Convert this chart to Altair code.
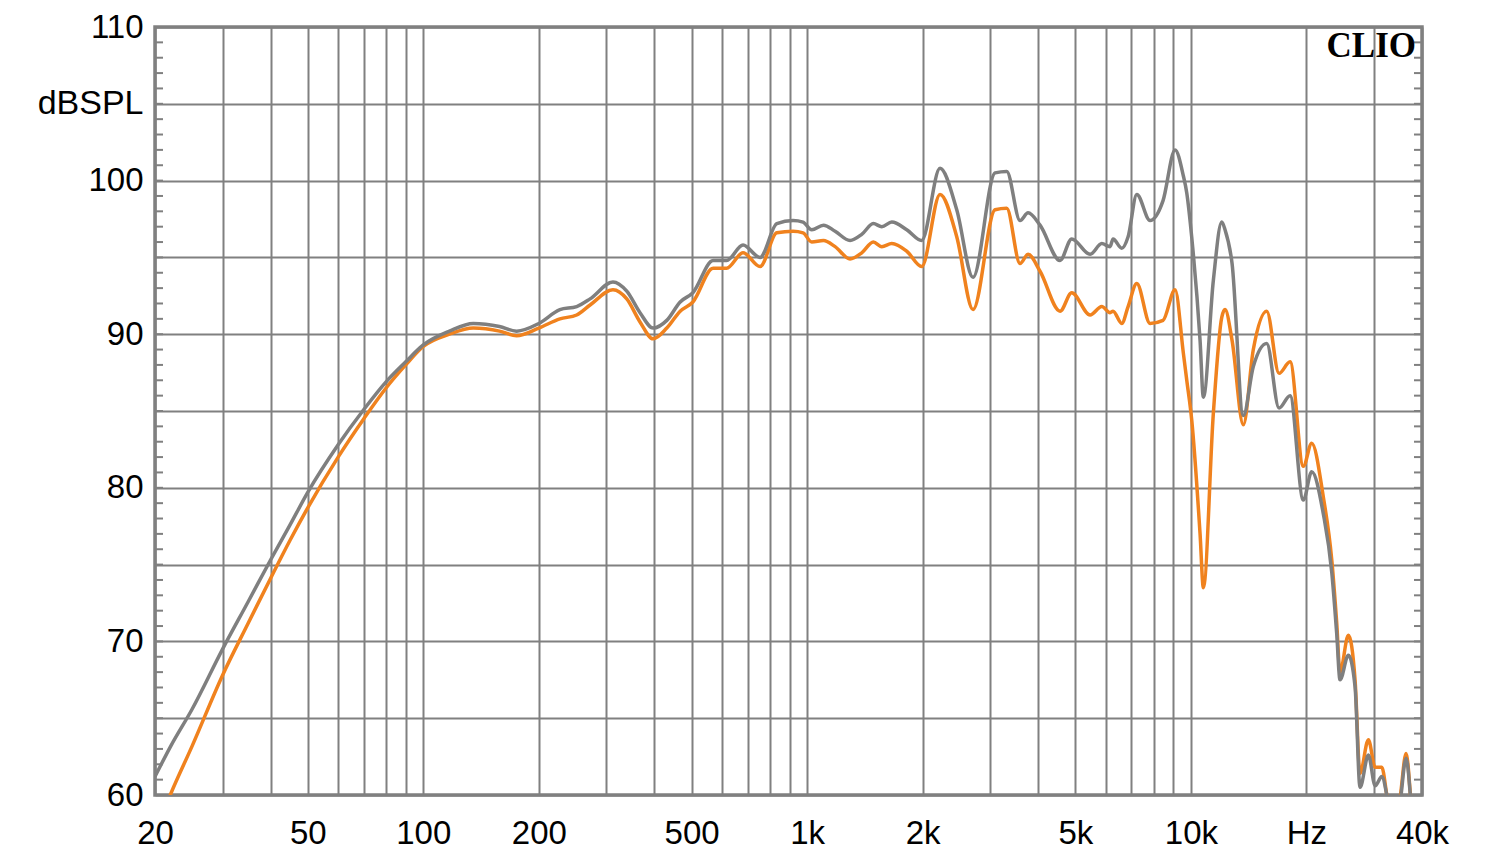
import altair as alt
import pandas as pd

# ---- data ----
freqs = [20, 22, 25, 30, 35, 40, 45, 50, 60, 70, 80, 90, 100, 117, 135, 158, 175, 200, 227, 251, 272,
         312, 339, 367, 397, 431, 467, 504, 569, 617, 681, 754, 834, 919, 976, 1028, 1103,
         1183, 1294, 1388, 1488, 1565, 1662, 1818, 1989, 2220, 2454, 2706, 3088, 3312, 3588,
         3764, 4045, 4560, 4892, 5462, 5858, 6156, 6268, 6604, 6860, 7228, 7826, 8460, 9093,
         9558, 9754, 10050, 10564, 10776, 11440, 12032, 12272, 12800, 13694, 14540, 15758,
         16968, 18128, 19630, 20640, 22130, 23280, 23980, 24460, 25720, 26770, 27580, 29000,
         30200, 31420, 32380, 33500, 35070, 36360, 37620, 39060, 40000]
gray_db = [61.2, 63.2, 65.6, 69.5, 72.6, 75.3, 77.6, 79.7, 82.8, 85.1, 86.9, 88.2, 89.3, 90.2, 90.7,
           90.5, 90.2, 90.7, 91.6, 91.8, 92.3, 93.4, 92.8, 91.4, 90.4, 90.9, 92.1, 92.7, 94.8,
           94.8, 95.8, 95.0, 97.2, 97.4, 97.3, 96.8, 97.1, 96.7, 96.1, 96.5, 97.2, 97.0, 97.3,
           96.8, 96.1, 100.8, 98.1, 93.7, 100.5, 100.6, 97.4, 97.9, 97.1, 94.8, 96.2, 95.2,
           95.9, 95.7, 96.2, 95.6, 96.35, 99.1, 97.4, 98.7, 102.0, 100.3, 99.2, 96.3, 89.6,
           85.9, 93.5, 97.3, 96.8, 94.6, 84.7, 87.9, 89.4, 85.2, 86.0, 79.2, 81.05, 78.3, 74.5,
           70.5, 67.5, 69.1, 67.05, 60.5, 62.6, 60.6, 61.2, 60.0, 57.5, 59.5, 62.4, 59.0, 56.0,
           55.0]
orange_db = [57.5, 60.1, 63.2, 67.8, 71.2, 74.1, 76.6, 78.7, 82.0, 84.5, 86.5, 88.0, 89.2, 90.0,
             90.4, 90.2, 89.9, 90.4, 91.0, 91.25, 91.9, 92.9, 92.3, 90.8, 89.7, 90.4, 91.5, 92.1,
             94.3, 94.3, 95.3, 94.4, 96.6, 96.7, 96.6, 96.0, 96.1, 95.7, 94.9, 95.3, 96.0, 95.7,
             95.9, 95.4, 94.4, 99.1, 96.35, 91.6, 98.1, 98.2, 94.6, 95.2, 94.1, 91.5, 92.7, 91.25,
             91.8, 91.4, 91.5, 90.7, 91.8, 93.3, 90.7, 90.9, 92.9, 88.75, 87.0, 84.4, 77.0, 73.5,
             84.85, 91.1, 91.6, 89.6, 84.1, 89.0, 91.5, 87.45, 88.2, 81.4, 82.9, 79.4, 75.3, 71.2,
             68.0, 70.4, 67.5, 61.4, 63.6, 61.8, 61.8, 60.0, 57.5, 59.8, 62.7, 59.0, 56.0, 55.0]

x_grid = [20, 30, 40, 50, 60, 70, 80, 90,
          100, 200, 300, 400, 500, 600, 700, 800, 900,
          1000, 2000, 3000, 4000, 5000, 6000, 7000, 8000, 9000,
          10000, 20000, 30000, 40000]
x_label_values = [20, 50, 100, 200, 500, 1000, 2000, 5000, 10000, 20000, 40000]
x_label_texts = ["20", "50", "100", "200", "500", "1k", "2k", "5k", "10k", "Hz", "40k"]
y_grid = [60, 65, 70, 75, 80, 85, 90, 95, 100, 105, 110]
y_label_values = [60, 70, 80, 90, 100, 110]
y_minor = list(range(61, 110))
unit_label = "dBSPL"
brand = "CLIO"

GRID = "#808080"
W, H = 1267, 768
FONT = "Liberation Sans"

curves = pd.DataFrame({"f": freqs, "gray": gray_db, "orange": orange_db})
ticks_df = pd.DataFrame({"db": y_minor})
brand_df = pd.DataFrame({"t": [brand]})

x_expr = " : ".join(f"datum.value == {v} ? '{t}'" for v, t in zip(x_label_values, x_label_texts)) + " : ''"
y_expr = " : ".join(f"datum.value == {v} ? '{v}'" for v in y_label_values) + " : ''"

xscale = alt.Scale(type="log", domain=[20, 40000], nice=False)
yscale = alt.Scale(domain=[60, 110], nice=False, zero=False)

x_axis = alt.Axis(values=x_grid, labelExpr=x_expr, title=None, grid=True, gridColor=GRID,
                  gridWidth=2, gridOpacity=1, domain=False, ticks=False, labelFont=FONT,
                  labelFontSize=33, labelColor="black", labelPadding=22, labelOverlap=False,
                  labelFlush=False, labelBound=False)
y_axis = alt.Axis(values=y_grid, labelExpr=y_expr, title=unit_label, grid=True, gridColor=GRID,
                  gridWidth=2, gridOpacity=1, domain=False, ticks=False, labelFont=FONT,
                  labelFontSize=33, labelColor="black", labelPadding=12, labelOverlap=False,
                  labelFlush=False, labelBound=False, titleAngle=0, titleX=-12, titleY=76,
                  titleAlign="right", titleBaseline="middle", titleFont=FONT, titleFontSize=34,
                  titleFontWeight="normal", titleColor="black")

base = alt.Chart(curves)

orange_line = base.mark_line(color="#f0821e", strokeWidth=3.5, clip=True, interpolate="monotone").encode(
    x=alt.X("f:Q", scale=xscale, axis=x_axis),
    y=alt.Y("orange:Q", scale=yscale, axis=y_axis),
)
gray_line = base.mark_line(color="#7f7f7f", strokeWidth=3.5, clip=True, interpolate="monotone").encode(
    x=alt.X("f:Q", scale=xscale),
    y=alt.Y("gray:Q", scale=yscale),
)

left_ticks = alt.Chart(ticks_df).mark_rule(color=GRID, strokeWidth=2).encode(
    y=alt.Y("db:Q", scale=yscale), x=alt.value(0), x2=alt.value(8)
)
right_ticks = alt.Chart(ticks_df).mark_rule(color=GRID, strokeWidth=2).encode(
    y=alt.Y("db:Q", scale=yscale), x=alt.value(W - 8), x2=alt.value(W)
)

brand_text = alt.Chart(brand_df).mark_text(
    font="Liberation Serif", fontWeight="bold", fontSize=35, color="black",
    align="right", baseline="alphabetic"
).encode(text="t:N", x=alt.value(W - 6), y=alt.value(30))

chart = alt.layer(left_ticks, right_ticks, orange_line, gray_line, brand_text).properties(
    width=W, height=H,
    padding={"left": 155, "top": 27, "right": 78, "bottom": 71},
    autosize=alt.AutoSizeParams(type="none"),
    background="white",
).configure_view(stroke=GRID, strokeWidth=3.5)

chart.save("out.html", embed_options={"renderer": "svg", "actions": False})
